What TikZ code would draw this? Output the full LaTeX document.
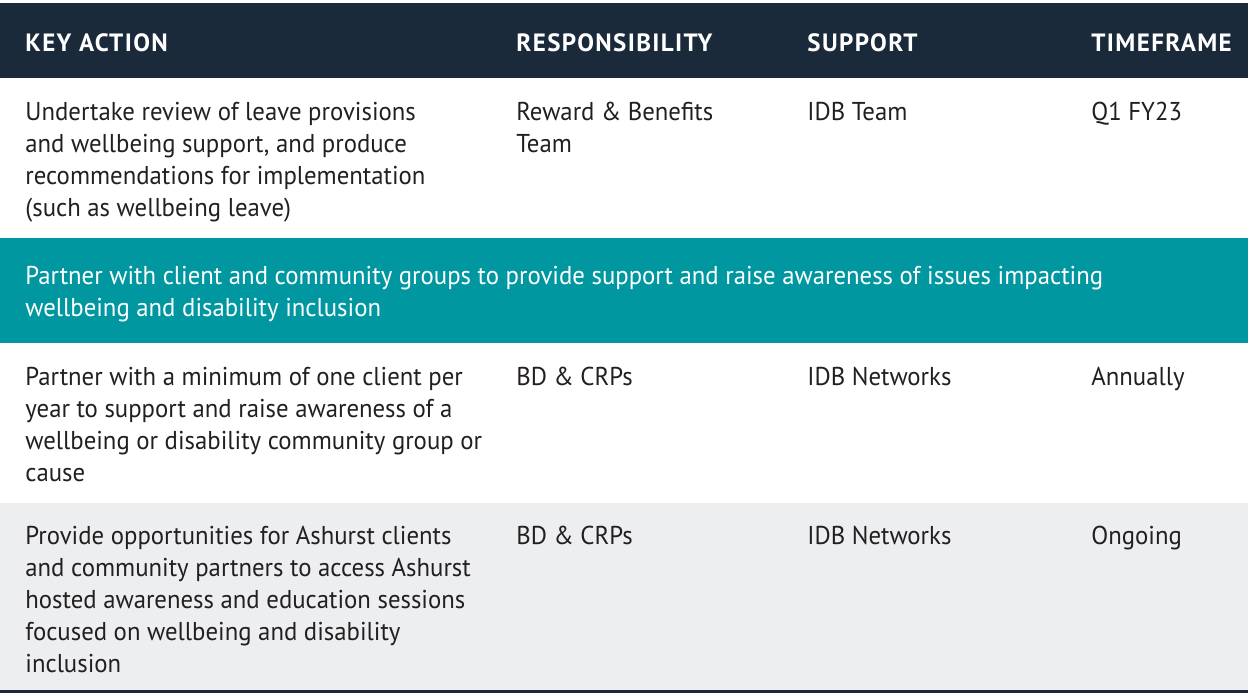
\documentclass[tikz,border=0pt]{standalone}
\usepackage{fontspec}
\setmainfont{PT Sans}[FakeStretch=0.96]
\newfontfamily\headfont{PT Sans}[LetterSpace=5.5]
\usetikzlibrary{positioning}
\definecolor{headnavy}{HTML}{1B2A3B}
\definecolor{bandteal}{HTML}{0097A0}
\definecolor{rowgrey}{HTML}{EDEEF0}
\definecolor{bodytext}{HTML}{231F20}
\tikzset{
cell/.style={anchor=base west,inner sep=0pt,align=left,text=bodytext,font=\fontsize{12.9}{16}\selectfont},
head/.style={cell,text=white,font=\headfont\bfseries\fontsize{12.5}{16}\selectfont},
band/.style={cell,text=white},
}
\begin{document}
\begin{tikzpicture}[x=0.5pt,y=-0.5pt]
    \useasboundingbox (0,0) rectangle (1248,693);
    % backgrounds
    \fill[headnavy] (0,3) rectangle (1248,78);
    \fill[bandteal] (0,238) rectangle (1248,343);
    \fill[rowgrey] (0,503) rectangle (1248,690);
    \fill[headnavy] (0,690) rectangle (1248,693);
    % header, one line each
    \foreach \n / \x / \t in {h1/25/KEY ACTION,h2/516/RESPONSIBILITY,h3/807/SUPPORT,h4/1091/TIMEFRAME}
      \node[head] (\n) at (\x,51) {\t};
    % cells sit on the baseline of their last line
    \node[cell] (a1) at (25,216) {Undertake review of leave provisions\\and wellbeing support, and produce\\recommendations for implementation\\(such as wellbeing leave)};
    \node[cell] (r1) at (516,152) {Reward \& Benefits\\Team};
    \node[cell] (s1) at (807,120) {IDB Team};
    \node[cell] (t1) at (1091,120) {Q1 FY23};
    %
    \node[band] (g1) at (25,316) {Partner with client and community groups to provide support and raise awareness of issues impacting\\wellbeing and disability inclusion};
    %
    \node[cell] (a2) at (25,481) {Partner with a minimum of one client per\\year to support and raise awareness of a\\wellbeing or disability community group or\\cause};
    \node[cell] (r2) at (516,385) {BD \& CRPs};
    \node[cell] (s2) at (807,385) {IDB Networks};
    \node[cell] (t2) at (1091,385) {Annually};
    %
    \node[cell] (a3) at (25,672) {Provide opportunities for Ashurst clients\\and community partners to access Ashurst\\hosted awareness and education sessions\\focused on wellbeing and disability\\inclusion};
    \node[cell] (r3) at (516,544) {BD \& CRPs};
    \node[cell] (s3) at (807,544) {IDB Networks};
    \node[cell] (t3) at (1091,544) {Ongoing};
\end{tikzpicture}
\end{document}
